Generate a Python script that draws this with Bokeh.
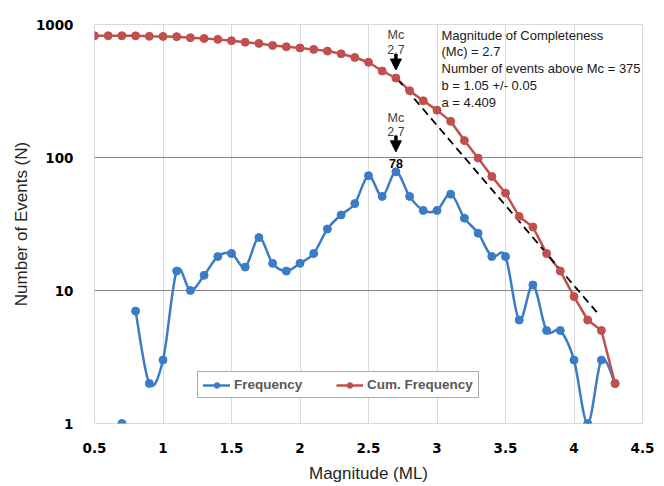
import numpy as np
from bokeh.plotting import figure
from bokeh.models import (FixedTicker, Legend, LegendItem, Label, Arrow,
                          NormalHead, PrintfTickFormatter)
from bokeh.embed import file_html
from bokeh.resources import INLINE

# ---------------- data ----------------
CUM_MAG = [0.5, 0.6, 0.7, 0.8, 0.9, 1.0, 1.1, 1.2, 1.3, 1.4, 1.5, 1.6, 1.7,
           1.8, 1.9, 2.0, 2.1, 2.2, 2.3, 2.4, 2.5, 2.6, 2.7, 2.8, 2.9, 3.0,
           3.1, 3.2, 3.3, 3.4, 3.5, 3.6, 3.7, 3.8, 3.9, 4.0, 4.1, 4.2, 4.3]
CUM_N = [823, 823, 823, 822, 815, 813, 810, 796, 786, 773, 755, 736, 721,
         696, 680, 666, 650, 631, 602, 565, 520, 447, 396, 318, 267, 227,
         187, 134, 99, 72, 54, 36, 30, 19, 14, 9, 6, 5, 2]

FREQ_MAG = [0.7, 0.8, 0.9, 1.0, 1.1, 1.2, 1.3, 1.4, 1.5, 1.6, 1.7, 1.8, 1.9,
            2.0, 2.1, 2.2, 2.3, 2.4, 2.5, 2.6, 2.7, 2.8, 2.9, 3.0, 3.1, 3.2,
            3.3, 3.4, 3.5, 3.6, 3.7, 3.8, 3.9, 4.0, 4.1, 4.2, 4.3]
FREQ_N = [1, 7, 2, 3, 14, 10, 13, 18, 19, 15, 25, 16, 14, 16, 19, 29, 37, 45,
          73, 51, 78, 51, 40, 40, 53, 35, 27, 18, 18, 6, 11, 5, 5, 3, 1, 3, 2]

FIT_MAG = [2.71, 4.17]
FIT_N = [390, 6.8]

MC = 2.7
MC_CUM = 396
MC_FREQ = 78

X_TICKS = [0.5, 1.0, 1.5, 2.0, 2.5, 3.0, 3.5, 4.0, 4.5]
X_TICK_LABELS = ["0.5", "1", "1.5", "2", "2.5", "3", "3.5", "4", "4.5"]
Y_TICKS = [1, 10, 100, 1000]

INFO_TEXT = ("Magnitude of Completeness\n(Mc) = 2.7\n"
             "Number of events above Mc = 375\nb = 1.05 +/- 0.05\na = 4.409")

# ---------------- styling ----------------
BLUE = "#3b7cc6"
RED = "#c0504d"
FRAME_H = 399
PX_PER_DECADE = FRAME_H / 3.0


def above(v, px):
    """value located px screen pixels above v on the log axis"""
    return v * 10 ** (px / PX_PER_DECADE)


p = figure(width=664, height=486, output_backend="svg", toolbar_location=None,
           x_range=(0.5, 4.5), y_range=(1, 1000), y_axis_type="log",
           min_border_left=94, min_border_right=22, min_border_top=24,
           min_border_bottom=63, background_fill_color="white",
           border_fill_color="white", outline_line_color="#d9d9d9")

# axes
p.xaxis.ticker = FixedTicker(ticks=X_TICKS)
p.xaxis.major_label_overrides = {t: l for t, l in zip(X_TICKS, X_TICK_LABELS)}
p.yaxis.ticker = FixedTicker(ticks=Y_TICKS)
p.yaxis.formatter = PrintfTickFormatter(format="%d")
for ax in (p.xaxis, p.yaxis):
    ax.axis_line_color = None
    ax.major_tick_line_color = None
    ax.minor_tick_line_color = None
    ax.major_label_text_font = "DejaVu Sans"
    ax.major_label_text_font_style = "bold"
    ax.major_label_text_font_size = "13.5px"
    ax.major_label_text_color = "black"
    ax.axis_label_text_font = "Liberation Sans"
    ax.axis_label_text_font_style = "normal"
    ax.axis_label_text_font_size = "17px"
    ax.axis_label_text_color = "#262626"
p.xaxis.axis_label = "Magnitude (ML)"
p.yaxis.axis_label = "Number of Events (N)"
p.xaxis.major_label_standoff = 13
p.yaxis.major_label_standoff = 15
p.xaxis.axis_label_standoff = 8
p.yaxis.axis_label_standoff = 2

# grids
p.xgrid.ticker = FixedTicker(ticks=X_TICKS)
p.xgrid.grid_line_color = "#d9d9d9"
p.xgrid.grid_line_width = 1
p.ygrid.ticker = FixedTicker(ticks=[t for t in Y_TICKS if t > 1])
p.ygrid.grid_line_color = "#868686"
p.ygrid.grid_line_width = 1

# ---------------- frequency (smoothed line) ----------------
xs = np.array(FREQ_MAG[1:], dtype=float)
ly = np.log10(np.array(FREQ_N[1:], dtype=float))
xm = np.concatenate([[xs[0]], xs[:-1]]); xp = np.concatenate([xs[1:], [xs[-1]]])
ym = np.concatenate([[ly[0]], ly[:-1]]); yp = np.concatenate([ly[1:], [ly[-1]]])
dx = (xp - xm) / 6.0
dy = (yp - ym) / 6.0
bez = p.bezier(x0=xs[:-1], y0=10 ** ly[:-1], x1=xs[1:], y1=10 ** ly[1:],
               cx0=xs[:-1] + dx[:-1], cy0=10 ** (ly[:-1] + dy[:-1]),
               cx1=xs[1:] - dx[1:], cy1=10 ** (ly[1:] - dy[1:]),
               line_color=BLUE, line_width=2.5, line_cap="round")
blue_pts = p.scatter(FREQ_MAG, FREQ_N, marker="circle", size=8,
                     fill_color=BLUE, line_color=BLUE)

# ---------------- cumulative frequency ----------------
red_line = p.line(CUM_MAG, CUM_N, line_color=RED, line_width=2.5)
fit = p.line(FIT_MAG, FIT_N, line_color="black", line_width=1.8,
             line_dash="8 5")
red_pts = p.scatter(CUM_MAG, CUM_N, marker="circle", size=8,
                    fill_color=RED, line_color=RED)

# ---------------- annotations ----------------
lbl_kw = dict(text_align="center", text_baseline="middle",
              text_font="Liberation Sans", text_font_size="12.5px",
              text_color="#404040")
p.add_layout(Label(x=MC, y=above(MC_CUM, 43), text="Mc", **lbl_kw))
p.add_layout(Label(x=MC, y=above(MC_CUM, 29), text=str(MC), **lbl_kw))
p.add_layout(Arrow(x_start=MC, x_end=MC, y_start=above(MC_CUM, 24),
                   y_end=above(MC_CUM, 8), line_width=3.5, line_color="black",
                   end=NormalHead(size=11, fill_color="black",
                                  line_color="black", line_width=1)))

p.add_layout(Label(x=MC, y=above(MC_FREQ, 54), text="Mc", **lbl_kw))
p.add_layout(Label(x=MC, y=above(MC_FREQ, 40), text=str(MC), **lbl_kw))
p.add_layout(Arrow(x_start=MC, x_end=MC, y_start=above(MC_FREQ, 36),
                   y_end=above(MC_FREQ, 20), line_width=3.5, line_color="black",
                   end=NormalHead(size=11, fill_color="black",
                                  line_color="black", line_width=1)))
p.add_layout(Label(x=MC, y=above(MC_FREQ, 8), text=str(MC_FREQ),
                   text_align="center", text_baseline="middle",
                   text_font="Liberation Sans", text_font_style="bold",
                   text_font_size="12.5px", text_color="black"))

p.add_layout(Label(x=347, y=396, x_units="screen", y_units="screen",
                   text=INFO_TEXT, text_align="left", text_baseline="top",
                   text_font="Liberation Sans", text_font_size="13px",
                   text_color="#1a1a1a", text_line_height=1.12))

# ---------------- legend ----------------
legend = Legend(items=[LegendItem(label="Frequency", renderers=[bez, blue_pts]),
                       LegendItem(label="Cum. Frequency",
                                  renderers=[red_line, red_pts])],
                orientation="horizontal", location=(103, 25), margin=0,
                padding=5, spacing=22, glyph_width=27, glyph_height=14,
                label_standoff=4, label_width=80,
                label_text_font="Liberation Sans",
                label_text_font_style="bold", label_text_font_size="13.5px",
                label_text_color="#595959", border_line_color="#595959",
                border_line_width=1, background_fill_color="white",
                background_fill_alpha=1)
p.add_layout(legend, "center")

open("out.html", "w").write(file_html(p, INLINE))
